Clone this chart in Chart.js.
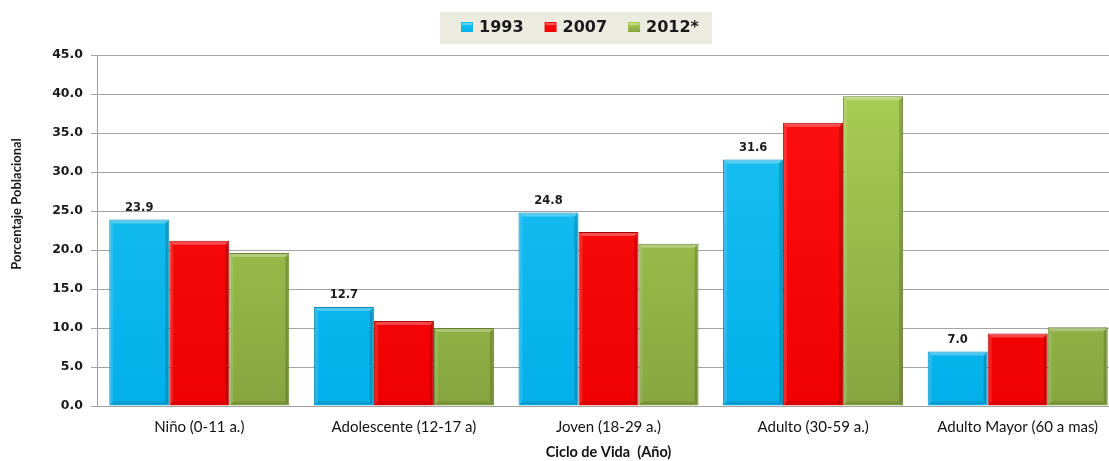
<!DOCTYPE html>
<html>
<head>
<meta charset="utf-8">
<script src="https://cdn.jsdelivr.net/npm/chart.js@4.4.1/dist/chart.umd.min.js"></script>
<style>
  html, body { margin: 0; padding: 0; background: #ffffff; overflow: hidden; }
  #wrap { width: 1109px; height: 461px; overflow: hidden; }
  canvas { display: block; }
</style>
</head>
<body>
<div id="wrap"><canvas id="c" width="1120" height="461"></canvas></div>
<script>
// Population share by life stage (%)
const categories = ['Niño (0-11 a.)', 'Adolescente (12-17 a)', 'Joven (18-29 a.)', 'Adulto (30-59 a.)', 'Adulto Mayor (60 a mas)'];
const seriesNames = ['1993', '2007', '2012*'];
const values1993 = [23.9, 12.7, 24.8, 31.6, 7.0];
const values2007 = [21.2, 10.9, 22.3, 36.3, 9.3];
const values2012 = [19.6, 10.0, 20.8, 39.7, 10.1];
const yTicks = [0, 5, 10, 15, 20, 25, 30, 35, 40, 45];
const yTitle = 'Porcentaje Poblacional';
const xTitle = 'Ciclo de Vida  (Año)';

// fill colours: [top, bottom, border]
const palette = [
  ['#1ec2f3', '#02b0ea', '#0b86b5'],
  ['#ff1212', '#f00000', '#a80000'],
  ['#abd155', '#87a640', '#66802c']
];

function vGrad(chart, i) {
  const area = chart.chartArea;
  if (!area) return palette[i][1];
  const g = chart.ctx.createLinearGradient(0, area.top, 0, area.bottom);
  g.addColorStop(0, palette[i][0]);
  g.addColorStop(1, palette[i][1]);
  return g;
}

// bevel highlights and shadows on each bar
const bevelPlugin = {
  id: 'bevel',
  afterDatasetsDraw(chart) {
    const ctx = chart.ctx;
    chart.data.datasets.forEach((ds, di) => {
      const meta = chart.getDatasetMeta(di);
      meta.data.forEach(bar => {
        const l = bar.x - bar.width / 2, r = bar.x + bar.width / 2;
        const t = bar.y, b = bar.base;
        const bw = 4;
        ctx.save();
        // top bevel
        ctx.fillStyle = 'rgba(255,255,255,0.28)';
        ctx.beginPath();
        ctx.moveTo(l + 1, t + 1); ctx.lineTo(r - 1, t + 1);
        ctx.lineTo(r - bw, t + bw); ctx.lineTo(l + bw, t + bw); ctx.closePath();
        ctx.fill();
        // left bevel
        ctx.fillStyle = 'rgba(255,255,255,0.12)';
        ctx.beginPath();
        ctx.moveTo(l + 1, t + 1); ctx.lineTo(l + bw, t + bw);
        ctx.lineTo(l + bw, b - bw); ctx.lineTo(l + 1, b - 1); ctx.closePath();
        ctx.fill();
        // right bevel
        ctx.fillStyle = 'rgba(0,0,0,0.16)';
        ctx.beginPath();
        ctx.moveTo(r - 1, t + 1); ctx.lineTo(r - bw, t + bw);
        ctx.lineTo(r - bw, b - bw); ctx.lineTo(r - 1, b - 1); ctx.closePath();
        ctx.fill();
        // bottom bevel
        ctx.fillStyle = 'rgba(0,0,0,0.12)';
        ctx.beginPath();
        ctx.moveTo(l + 1, b - 1); ctx.lineTo(l + bw, b - bw);
        ctx.lineTo(r - bw, b - bw); ctx.lineTo(r - 1, b - 1); ctx.closePath();
        ctx.fill();
        ctx.restore();
      });
    });
  }
};

// value labels above the 1993 bars
const valueLabelPlugin = {
  id: 'valueLabels',
  afterDatasetsDraw(chart) {
    const ctx = chart.ctx;
    const meta = chart.getDatasetMeta(0);
    const data = chart.data.datasets[0].data;
    ctx.save();
    ctx.font = 'bold 11.5px "DejaVu Sans"';
    ctx.fillStyle = '#1a1a1a';
    ctx.textAlign = 'center';
    ctx.textBaseline = 'bottom';
    meta.data.forEach((bar, i) => {
      ctx.fillText(data[i].toFixed(1), bar.x, bar.y - 6);
    });
    ctx.restore();
  }
};

// boxed legend and rotated y-axis title
const decorPlugin = {
  id: 'decor',
  afterDraw(chart) {
    const ctx = chart.ctx;
    ctx.save();
    // legend
    const boxX = 440, boxY = 12, boxW = 272, boxH = 32;
    ctx.fillStyle = '#ebebdf';
    ctx.fillRect(boxX, boxY, boxW, boxH);
    ctx.font = 'bold 16px "DejaVu Sans"';
    ctx.textBaseline = 'middle';
    ctx.textAlign = 'left';
    const sq = 12, gapText = 6, gapItem = 21;
    let total = 0;
    chart.data.datasets.forEach((ds, i) => {
      total += sq + gapText + ctx.measureText(ds.label).width;
      if (i < chart.data.datasets.length - 1) total += gapItem;
    });
    let x = boxX + boxW / 2 - total / 2 + 4;
    const cy = boxY + boxH / 2 - 1;
    chart.data.datasets.forEach((ds, i) => {
      const g = ctx.createLinearGradient(0, cy - 5, 0, cy + 5);
      g.addColorStop(0, palette[i][0]);
      g.addColorStop(1, palette[i][1]);
      ctx.fillStyle = g;
      ctx.fillRect(x, cy - 5, sq, 10);
      ctx.fillStyle = 'rgba(255,255,255,0.3)';
      ctx.fillRect(x + 1, cy - 4, sq - 2, 2);
      x += sq + gapText;
      ctx.fillStyle = '#1a1a1a';
      ctx.fillText(ds.label, x, cy + 1);
      x += ctx.measureText(ds.label).width + gapItem;
    });
    // y-axis title
    ctx.translate(17, 204);
    ctx.rotate(-Math.PI / 2);
    ctx.font = 'bold 13px Lato';
    ctx.textAlign = 'center';
    ctx.textBaseline = 'middle';
    ctx.fillStyle = '#1a1a1a';
    ctx.fillText(yTitle, 0, 0);
    ctx.restore();
  }
};

const seriesValues = [values1993, values2007, values2012];

new Chart(document.getElementById('c'), {
  type: 'bar',
  data: {
    labels: categories,
    datasets: seriesNames.map((name, i) => ({
      label: name,
      data: seriesValues[i],
      backgroundColor: ctx => vGrad(ctx.chart, i),
      borderColor: palette[i][2],
      borderWidth: 1,
      barPercentage: 1.0,
      categoryPercentage: 0.88
    }))
  },
  options: {
    responsive: false,
    animation: false,
    devicePixelRatio: 1,
    layout: { padding: { top: 55, left: 0, right: 0, bottom: 0 } },
    plugins: {
      legend: { display: false },
      tooltip: { enabled: false }
    },
    scales: {
      x: {
        grid: { display: false, drawTicks: false },
        border: { color: '#a0a0a0', width: 1 },
        ticks: {
          font: { family: 'Lato', size: 15 },
          color: '#111111',
          padding: 12,
          maxRotation: 0,
          autoSkip: false
        },
        title: {
          display: true,
          text: xTitle,
          font: { family: 'Lato', size: 14.5, weight: 'bold' },
          color: '#111111',
          padding: { top: 0, bottom: 0 }
        },
        afterFit(scale) { scale.height = 55; }
      },
      y: {
        min: 0,
        max: 45,
        afterBuildTicks(scale) { scale.ticks = yTicks.map(v => ({ value: v })); },
        grid: { color: '#a3a3a3', lineWidth: 1, tickLength: 6, drawTicks: true },
        border: { color: '#a0a0a0', width: 1 },
        ticks: {
          font: { family: 'DejaVu Sans', size: 12.5, weight: 'bold' },
          color: '#1a1a1a',
          padding: 8,
          callback: v => Number(v).toFixed(1)
        },
        afterFit(scale) { scale.width = 97; }
      }
    }
  },
  plugins: [bevelPlugin, valueLabelPlugin, decorPlugin]
});
</script>
</body>
</html>
